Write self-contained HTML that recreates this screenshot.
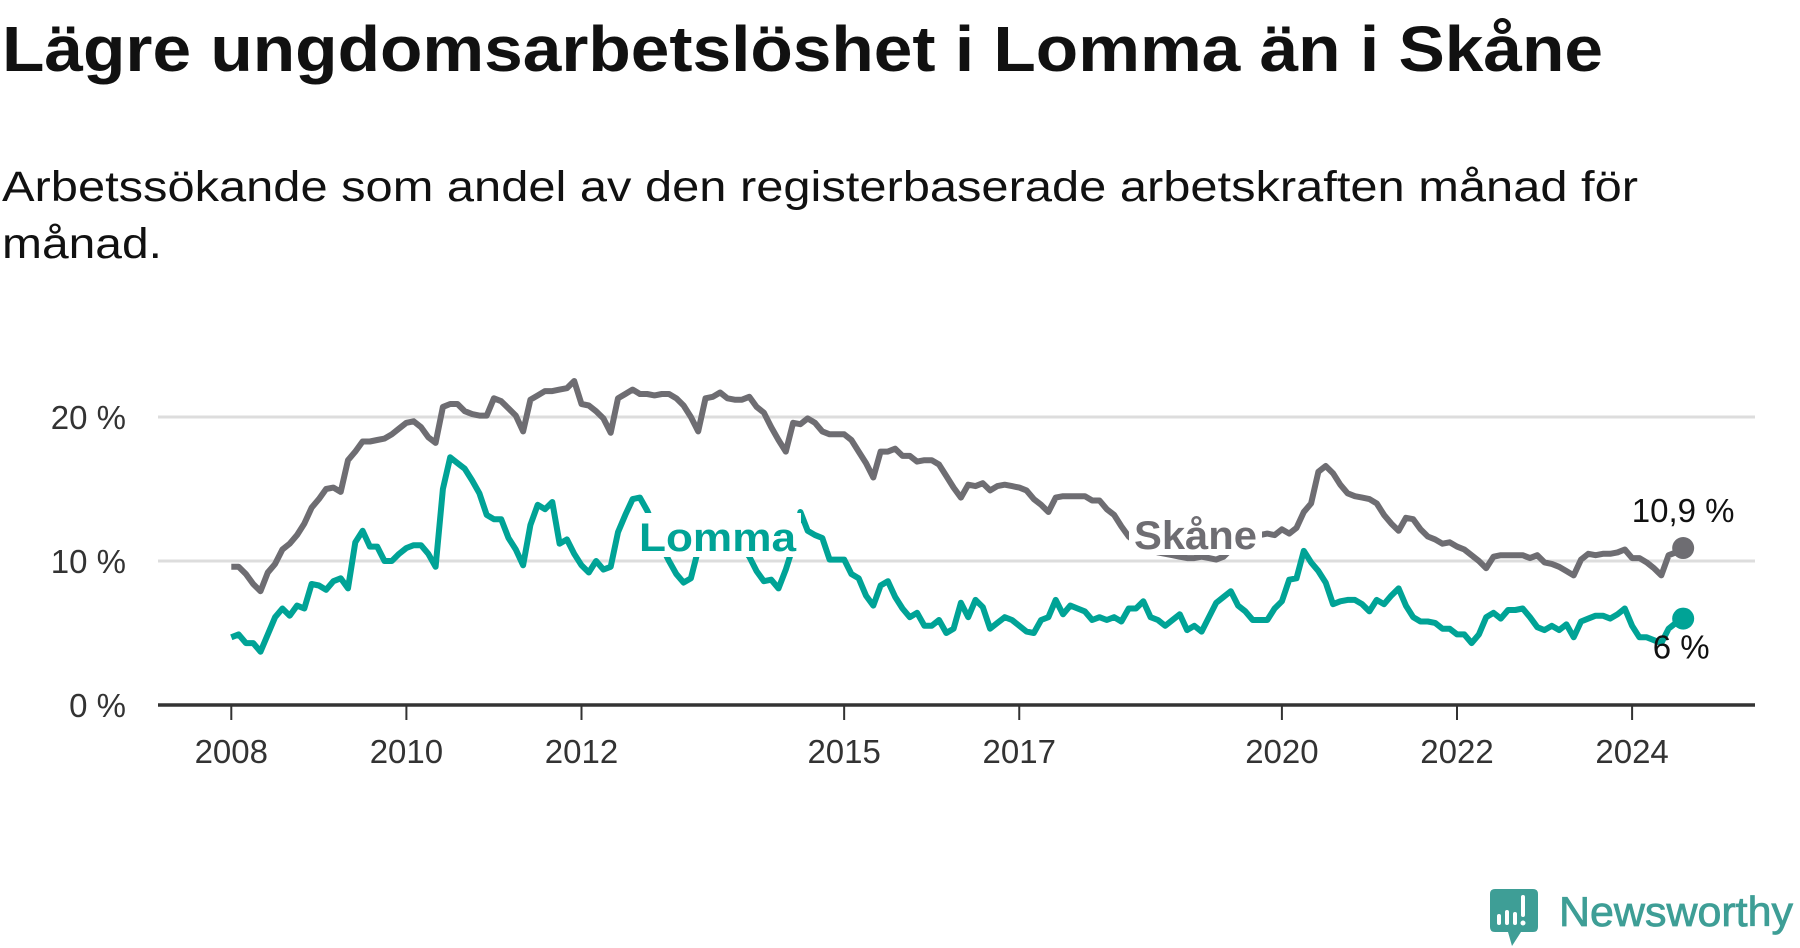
<!DOCTYPE html>
<html><head><meta charset="utf-8"><style>
html,body{margin:0;padding:0;background:#fff;}
svg{display:block;font-family:"Liberation Sans",sans-serif;}
</style></head><body>
<svg id="chart" width="1800" height="948" viewBox="0 0 1800 948">
<text x="2" y="71" font-size="64" font-weight="bold" fill="#111" textLength="1601" lengthAdjust="spacingAndGlyphs">Lägre ungdomsarbetslöshet i Lomma än i Skåne</text>
<text x="2" y="201" font-size="43" fill="#111" textLength="1636" lengthAdjust="spacingAndGlyphs">Arbetssökande som andel av den registerbaserade arbetskraften månad för</text>
<text x="2" y="258" font-size="43" fill="#111" textLength="160" lengthAdjust="spacingAndGlyphs">månad.</text>
<g id="grid"></g>
<g id="series"></g>
<g>
<path d="M1495 889 H1533 Q1538 889 1538 894 V927 Q1538 932 1533 932 H1521 L1512 946 L1508 932 H1495 Q1490 932 1490 927 V894 Q1490 889 1495 889 Z" fill="#3e9e96"/>
<rect x="1497" y="914" width="4" height="11" rx="2" fill="#fff"/>
<rect x="1505" y="910" width="4" height="15" rx="2" fill="#fff"/>
<rect x="1513" y="912" width="4" height="13" rx="2" fill="#fff"/>
<rect x="1521" y="895" width="4" height="22" rx="2" fill="#fff"/>
<circle cx="1523" cy="923" r="2.5" fill="#fff"/>
<text x="1559" y="926" font-size="42" fill="#3e9e96" stroke="#3e9e96" stroke-width="0.8" textLength="234" lengthAdjust="spacingAndGlyphs">Newsworthy</text>
</g>
</svg>
<script>
const years = [2008,2009,2010,2011,2012,2013,2014,2015,2016,2017,2018,2019,2020,2021,2022,2023,2024];
const xTickYears = [2008,2010,2012,2015,2017,2020,2022,2024];
const yTicks = [0,10,20];
const yTickLabels = ["0 %","10 %","20 %"];
const skane = [
9.6,9.6,9.1,8.4,7.9,9.2,9.8,10.8,11.2,11.8,12.6,13.7,
14.3,15.0,15.1,14.8,17.0,17.6,18.3,18.3,18.4,18.5,18.8,19.2,
19.6,19.7,19.3,18.6,18.2,20.7,20.9,20.9,20.4,20.2,20.1,20.1,
21.3,21.1,20.6,20.1,19.0,21.2,21.5,21.8,21.8,21.9,22.0,22.5,
20.9,20.8,20.4,19.9,18.9,21.3,21.6,21.9,21.6,21.6,21.5,21.6,
21.6,21.3,20.8,20.0,19.0,21.3,21.4,21.7,21.3,21.2,21.2,21.4,
20.7,20.3,19.3,18.4,17.6,19.6,19.5,19.9,19.6,19.0,18.8,18.8,
18.8,18.4,17.6,16.8,15.8,17.6,17.6,17.8,17.3,17.3,16.9,17.0,
17.0,16.7,15.9,15.1,14.4,15.3,15.2,15.4,14.9,15.2,15.3,15.2,
15.1,14.9,14.3,13.9,13.4,14.4,14.5,14.5,14.5,14.5,14.2,14.2,
13.6,13.2,12.4,11.7,11.3,11.0,10.8,10.6,10.5,10.4,10.3,10.2,
10.2,10.3,10.2,10.1,10.3,10.8,11.2,11.4,11.6,11.8,11.9,11.8,
12.2,11.9,12.3,13.4,14.0,16.2,16.6,16.1,15.3,14.7,14.5,14.4,
14.3,14.0,13.2,12.6,12.1,13.0,12.9,12.2,11.7,11.5,11.2,11.3,
11.0,10.8,10.4,10.0,9.5,10.3,10.4,10.4,10.4,10.4,10.2,10.4,
9.9,9.8,9.6,9.3,9.0,10.1,10.5,10.4,10.5,10.5,10.6,10.8,
10.2,10.2,9.9,9.5,9.0,10.4,10.6,10.9];
const lomma = [
4.7,4.9,4.3,4.3,3.7,4.9,6.1,6.7,6.2,6.9,6.7,8.4,
8.3,8.0,8.6,8.8,8.1,11.3,12.1,11.0,11.0,10.0,10.0,10.5,
10.9,11.1,11.1,10.5,9.6,15.0,17.2,16.8,16.4,15.6,14.7,13.2,
12.9,12.9,11.6,10.8,9.7,12.5,13.9,13.6,14.1,11.2,11.5,10.5,
9.7,9.2,10.0,9.4,9.6,12.0,13.2,14.3,14.4,13.5,12.3,11.0,
10.0,9.1,8.5,8.8,10.8,12.3,12.8,12.5,12.0,11.5,11.0,10.3,
9.3,8.6,8.7,8.1,9.4,11.0,13.4,12.1,11.8,11.6,10.1,10.1,
10.1,9.1,8.8,7.6,6.9,8.3,8.6,7.5,6.7,6.1,6.4,5.5,
5.5,5.9,5.0,5.3,7.1,6.1,7.3,6.8,5.3,5.7,6.1,5.9,
5.5,5.1,5.0,5.9,6.1,7.3,6.3,6.9,6.7,6.5,5.9,6.1,
5.9,6.1,5.8,6.7,6.7,7.2,6.1,5.9,5.5,5.9,6.3,5.2,
5.5,5.1,6.1,7.1,7.5,7.9,6.9,6.5,5.9,5.9,5.9,6.7,
7.2,8.7,8.8,10.7,9.9,9.3,8.5,7.0,7.2,7.3,7.3,7.0,
6.5,7.3,7.0,7.6,8.1,6.9,6.1,5.8,5.8,5.7,5.3,5.3,
4.9,4.9,4.3,4.9,6.1,6.4,6.0,6.6,6.6,6.7,6.1,5.4,
5.2,5.5,5.2,5.6,4.7,5.8,6.0,6.2,6.2,6.0,6.3,6.7,
5.5,4.7,4.7,4.5,4.3,5.3,5.7,6.0];
const endLabels = ["10,9 %","6 %"];

const NS="http://www.w3.org/2000/svg";
const X0=231.3, PERYEAR=87.55, Y0=705, PERPCT=14.4;
function xScale(t){return X0+(t-2008)*PERYEAR;}
function yScale(v){return Y0-v*PERPCT;}
function mk(tag,attrs,parent){const e=document.createElementNS(NS,tag);for(const k in attrs)e.setAttribute(k,attrs[k]);parent.appendChild(e);return e;}
const grid=document.getElementById('grid');
yTicks.forEach((v,i)=>{
  if(v>0){const g=mk('line',{x1:158,x2:1755,y1:yScale(v),y2:yScale(v),stroke:'#dddddd','stroke-width':3},grid);
  
  }
  const t=mk('text',{x:126,y:yScale(v)+12,'font-size':33,fill:'#333','text-anchor':'end'},grid);
  t.textContent=yTickLabels[i];
  
  
});
const ax=mk('line',{x1:158,x2:1755,y1:Y0,y2:Y0,stroke:'#333','stroke-width':3.5},grid);


xTickYears.forEach(yr=>{
  const x=xScale(yr);
  const tk=mk('line',{x1:x,x2:x,y1:Y0,y2:720,stroke:'#333','stroke-width':2},grid);
  
  
  const t=mk('text',{x:x,y:763,'font-size':33,fill:'#333','text-anchor':'middle'},grid);
  t.textContent=yr;
  
  
});
const ser=document.getElementById('series');
function pts(arr){return arr.map((v,i)=>xScale(2008+i/12).toFixed(1)+','+yScale(v).toFixed(1)).join(' ');}
function drawLine(arr,color,name){
  const p=mk('polyline',{points:pts(arr),fill:'none',stroke:color,'stroke-width':6,'stroke-linejoin':'round'},ser);
  
  
}
function label(txt,x,y,color,len,name){
  const r=mk('rect',{x:x-5,y:y-38,width:len+10,height:44,fill:'#fff'},ser);
  
  
  const t=mk('text',{x:x,y:y,'font-size':40,'font-weight':'bold',fill:color,textLength:len,lengthAdjust:'spacingAndGlyphs'},ser);
  t.textContent=txt;
  
  
}
drawLine(skane,'#6e6d72','skane-line');
label('Skåne',1134,549,'#6e6d72',123,'skane-label');
drawLine(lomma,'#00a396','lomma-line');
label('Lomma',639,551,'#00a396',157,'lomma-label');
const n=skane.length-1;
const ex=xScale(2008+n/12);
const c1=mk('circle',{cx:ex,cy:yScale(skane[n]),r:11,fill:'#6e6d72'},ser);


const c2=mk('circle',{cx:xScale(2008+(lomma.length-1)/12),cy:yScale(lomma[lomma.length-1]),r:11,fill:'#00a396'},ser);


const t1=mk('text',{x:ex,y:yScale(skane[n])-26,'font-size':33,fill:'#111','text-anchor':'middle'},ser);
t1.textContent=endLabels[0];


const t2=mk('text',{x:ex-2,y:yScale(lomma[lomma.length-1])+40,'font-size':33,fill:'#111','text-anchor':'middle'},ser);
t2.textContent=endLabels[1];


</script>
</body></html>
